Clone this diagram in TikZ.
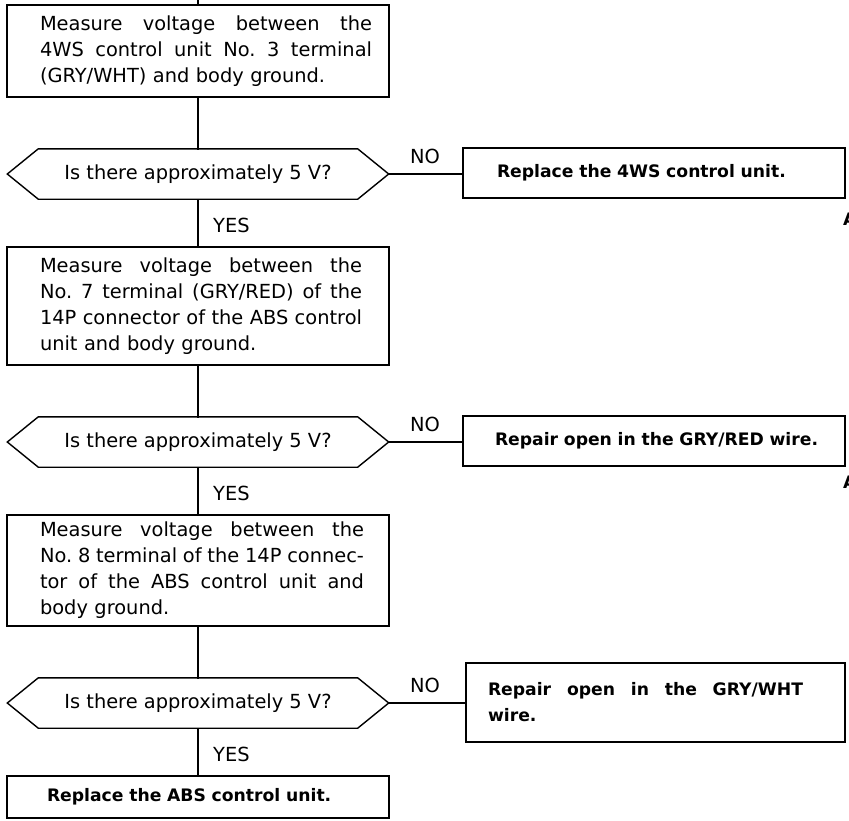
\documentclass[tikz,border=0pt]{standalone}
\usepackage{fontspec}
\setmainfont{DejaVu Sans}
\frenchspacing
\newcommand\regf{\fontsize{19.4}{26}\selectfont}
\newcommand\boldf{\fontsize{17.2}{26}\selectfont\bfseries}
\newlength\padl
\newcommand\jline[2]{\hspace*{\padl}\makebox[#1][s]{\spaceskip=0pt\xspaceskip=0pt\frenchspacing\relax #2}}
\newcommand\pline[1]{\hspace*{\padl}#1}
\tikzset{
  ln/.style={line width=1.4pt, line cap=rect},
  stepbox/.style={draw, line width=1.4pt, inner xsep=0pt, inner ysep=0pt, align=left, font=\regf},
  decbox/.style={inner sep=0pt, minimum width=319pt, minimum height=50pt, font=\regf},
  lab/.style={font=\regf, inner sep=0pt},
}
\begin{document}
\begin{tikzpicture}[x=1pt,y=-1pt]
\useasboundingbox (0,0) rectangle (849,820);
\clip (0,0) rectangle (849,820);

% main column
\coordinate (top) at (198,0);
\node[stepbox, text width=382pt, minimum height=92pt] (b1) at (198,51)
 {\setlength\padl{33pt}\jline{332pt}{Measure voltage between the}\\
  \jline{332pt}{4WS control unit No. 3 terminal}\\
  \pline{(GRY/WHT) and body ground.}};
\node[decbox] (d1) at (198,174) {Is there approximately 5 V?};
\node[stepbox, text width=382pt, minimum height=118pt] (b2) at (198,306)
 {\setlength\padl{33pt}\jline{322pt}{Measure voltage between the}\\
  \jline{322pt}{No. 7 terminal (GRY/RED) of the}\\
  \jline{322pt}{14P connector of the ABS control}\\
  \pline{unit and body ground.}};
\node[decbox] (d2) at (198,442) {Is there approximately 5 V?};
\node[stepbox, text width=382pt, minimum height=111pt] (b3) at (198,570.5)
 {\setlength\padl{33pt}\jline{324pt}{Measure voltage between the}\\
  \jline{324pt}{No. 8 terminal of the 14P connec-}\\
  \jline{324pt}{tor of the ABS control unit and}\\
  \pline{body ground.}};
\node[decbox] (d3) at (198,703) {Is there approximately 5 V?};
\node[stepbox, text width=382pt, minimum height=42pt, font=\boldf] (b4) at (198,797)
 {\setlength\padl{40pt}\pline{Replace the ABS control unit.}};

% right column
\node[stepbox, text width=382pt, minimum height=50pt, font=\boldf] (r1) at (654,173)
 {\setlength\padl{34pt}\pline{Replace the 4WS control unit.}};
\node[stepbox, text width=382pt, minimum height=50pt, font=\boldf] (r2) at (654,441)
 {\setlength\padl{32pt}\pline{Repair open in the GRY/RED wire.}};
\node[stepbox, text width=379pt, minimum height=79pt, font=\boldf] (r3) at (655.5,702.5)
 {\setlength\padl{22pt}\jline{315pt}{Repair open in the GRY/WHT}\\
  \pline{wire.}};

% decision outlines
\foreach \d in {d1,d2,d3}{
  \coordinate (\d r) at ([xshift=31pt]\d.east);
  \coordinate (\d l) at ([xshift=-31pt]\d.west);
  \draw[ln, line join=miter] (\d.north west) -- (\d.north east) -- (\d r) -- (\d.south east)
     -- (\d.south west) -- (\d l) -- cycle;
}

% labels
\node[lab] (no1) at (425,156) {NO};
\node[lab] (no2) at (425,424) {NO};
\node[lab] (no3) at (425,685) {NO};
\node[lab, anchor=west] (yes1) at (213,225) {YES};
\node[lab, anchor=west] (yes2) at (213,493) {YES};
\node[lab, anchor=west] (yes3) at (213,754) {YES};
\node[lab, font=\boldf, anchor=west] (cutA1) at (843,219) {A};
\node[lab, font=\boldf, anchor=west] (cutA2) at (843,482) {A};

% connectors
\draw[ln] (top) -- (b1.north);
\draw[ln] (b1.south) -- (d1.north);
\draw[ln] (d1.south) -- (b2.north);
\draw[ln] (b2.south) -- (d2.north);
\draw[ln] (d2.south) -- (b3.north);
\draw[ln] (b3.south) -- (d3.north);
\draw[ln] (d3.south) -- (b4.north);
\draw[ln] (d1r) -- (d1r -| r1.west);
\draw[ln] (d2r) -- (d2r -| r2.west);
\draw[ln] (d3r) -- (d3r -| r3.west);
\end{tikzpicture}
\end{document}
